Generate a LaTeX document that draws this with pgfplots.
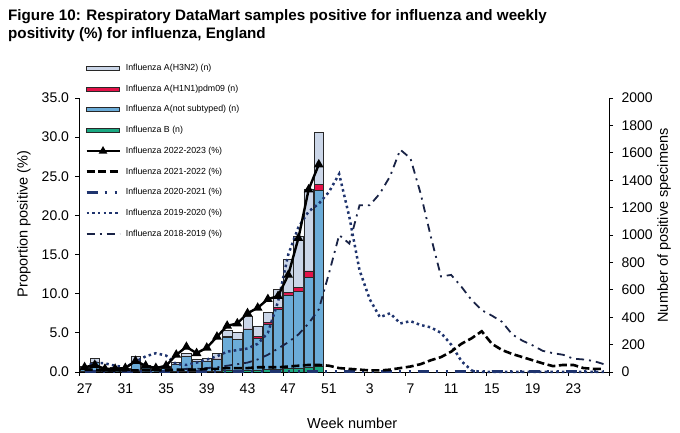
\documentclass[border=0pt]{standalone}
\usepackage{fontspec}
\setmainfont{Liberation Sans}
\usepackage{pgfplots}
\pgfplotsset{compat=1.18}
\usepackage{pgfplotstable}

\definecolor{hthree}{RGB}{203,214,232}
\definecolor{hone}{RGB}{228,18,72}
\definecolor{notsub}{RGB}{107,172,216}
\definecolor{fluB}{RGB}{26,168,130}
\definecolor{navy}{RGB}{31,52,110}
\definecolor{darknavy}{RGB}{25,35,70}
\definecolor{outl}{RGB}{40,40,40}

% weekly counts 2022-2023 season (index 0 = week 27)
\pgfplotstableread{
idx B notsub hone hthree
0 2 30 0 8
1 3 65 0 30
2 1 20 0 5
3 1 25 0 8
4 1 20 0 5
5 2 75 0 35
6 1 38 0 12
7 1 28 0 10
8 1 25 0 15
9 2 55 0 11
10 3 108 1 25
11 3 72 0 18
12 4 72 1 21
13 5 88 2 42
14 12 242 3 45
15 12 225 3 48
16 14 296 5 90
17 15 231 12 78
18 18 333 12 71
19 20 438 15 132
20 25 538 17 239
21 30 557 33 370
22 35 658 45 598
23 40 1284 44 378
}\bars

\pgfplotstableread{
idx pos
0 0.6
1 0.9
2 0.4
3 0.4
4 0.5
5 1.4
6 0.8
7 0.5
8 0.8
9 2.2
10 3.2
11 2.4
12 3.1
13 4.5
14 5.9
15 6.2
16 7.5
17 8.2
18 9.3
19 9.7
20 12.4
21 17.1
22 23.3
23 26.5
}\sA

\pgfplotstableread{
idx s2122 s2021 s1920 s1819
0 0.3 0.05 0.6 0.3
1 0.3 0.05 1.2 0.3
2 0.2 0.05 1.1 0.2
3 0.2 0.05 0.8 0.2
4 0.2 0.05 0.6 0.2
5 0.2 0.05 1.3 0.2
6 0.2 0.05 2.0 0.2
7 0.2 0.05 2.4 0.2
8 0.2 0.05 2.1 0.3
9 0.3 0.05 1.0 0.3
10 0.3 0.05 0.9 0.4
11 0.3 0.05 1.2 0.4
12 0.4 0.05 1.6 0.5
13 0.4 0.05 2.0 0.6
14 0.5 0.05 2.6 0.8
15 0.5 0.05 2.8 1.0
16 0.5 0.05 3.0 1.2
17 0.6 0.05 3.6 1.6
18 0.6 0.05 5.0 2.2
19 0.6 0.05 9.0 3.0
20 0.7 0.05 15.0 3.8
21 0.8 0.05 18.5 4.8
22 0.9 0.05 20.5 6.2
23 0.9 0.05 21.5 8.0
24 0.8 0.05 23.0 12.6
25 0.5 0.05 25.3 17.5
26 0.4 0.05 19.8 16.4
27 0.3 0.05 13.0 21.3
28 0.2 0.05 9.3 21.3
29 0.2 0.05 7.0 22.8
30 0.3 0.05 7.5 25.0
31 0.5 0.05 6.2 28.4
32 0.7 0.05 6.5 27.3
33 1.0 0.05 6.0 22.8
34 1.5 0.05 5.7 17.3
35 1.9 0.05 5.0 12.2
36 2.6 0.05 3.5 12.4
37 3.6 0.05 1.4 10.9
38 4.3 0.05 0.2 9.2
39 5.2 0.05 0.0 7.9
40 3.6 0.05 0.0 7.2
41 2.8 0.05 0.0 6.4
42 2.3 0.05 0.0 4.8
43 1.9 0.05 0.0 4.0
44 1.5 0.05 0.0 3.4
45 1.1 0.05 0.0 2.7
46 0.75 0.05 0.0 2.4
47 0.9 0.05 0.0 2.2
48 0.9 0.05 0.0 1.7
49 0.5 0.05 0.0 1.6
50 0.4 0.05 0.0 1.4
51 0.4 0.05 0.0 1.0
}\prev

\begin{document}
\begin{tikzpicture}
\useasboundingbox (0pt,0pt) rectangle (680pt,433pt);
\node[anchor=base west, inner sep=0pt, font=\fontsize{15.2}{17}\selectfont\bfseries] at (8pt,412pt)
  {Figure 10: Respiratory DataMart samples positive for influenza and weekly};
\node[anchor=base west, inner sep=0pt, font=\fontsize{15.2}{17}\selectfont\bfseries] at (8pt,394pt)
  {positivity (\%) for influenza, England};

% ---------- bars: number of positive specimens (right axis) ----------
\begin{axis}[
  at={(79.5pt,61pt)}, anchor=south west,
  scale only axis, width=529.5pt, height=274pt,
  xmin=-0.5, xmax=51.5, ymin=0, ymax=2000,
  axis y line*=right, axis x line*=bottom,
  axis line style={black, line width=0.8pt},
  ytick={0,200,...,2000},
  xtick={-0.5,3.5,...,51.5},
  xticklabels={27,31,35,39,43,47,51,3,7,11,15,19,23,{}},
  xticklabel style={xshift=5.09pt, yshift=-4pt},
  yticklabel style={xshift=5pt},
  tick align=outside, major tick length=4pt,
  tick style={black, line width=0.8pt},
  tick label style={font=\fontsize{14}{16}\selectfont},
  /pgf/number format/assume math mode=true,
  /pgf/number format/1000 sep={},
  xlabel={Week number},
  xlabel style={font=\fontsize{14.5}{16}\selectfont, at={(axis description cs:0.515,0)}, anchor=center, yshift=-51pt},
  ylabel={Number of positive specimens},
  ylabel style={font=\fontsize{14.5}{16}\selectfont, at={(axis description cs:1.104,0.535)}, anchor=center},
  ybar stacked, bar width=9.4pt,
  every axis plot/.append style={draw=outl, line width=0.6pt},
]
\addplot[fill=fluB, draw=outl] table[x=idx, y=B] {\bars};
\addplot[fill=notsub, draw=outl] table[x=idx, y=notsub] {\bars};
\addplot[fill=hone, draw=outl] table[x=idx, y=hone] {\bars};
\addplot[fill=hthree, draw=outl] table[x=idx, y=hthree] {\bars};
\end{axis}

% ---------- lines: proportion positive (left axis) ----------
\begin{axis}[
  at={(79.5pt,61pt)}, anchor=south west,
  scale only axis, width=529.5pt, height=274pt,
  xmin=-0.5, xmax=51.5, ymin=0, ymax=35,
  axis y line*=left, axis x line=none,
  axis line style={black, line width=0.8pt},
  clip=false,
  ytick={0,5,...,35},
  yticklabel style={xshift=-3pt, /pgf/number format/fixed, /pgf/number format/fixed zerofill, /pgf/number format/precision=1},
  tick align=outside, major tick length=4pt,
  tick style={black, line width=0.8pt},
  tick label style={font=\fontsize{14}{16}\selectfont},
  /pgf/number format/assume math mode=true,
  ylabel={Proportion positive (\%)},
  ylabel style={font=\fontsize{14.5}{16}\selectfont, at={(axis description cs:-0.105,0.54)}, anchor=center},
  legend image code/.code={\draw[mark repeat=2, mark phase=2, #1] plot coordinates {(0pt,0pt) (16.5pt,0pt) (33pt,0pt)};},
  legend style={draw=none, fill=none, at={(0.0104,1.124)}, anchor=north west, inner sep=0pt,
    font=\fontsize{8.8}{10}\selectfont, row sep=12.6pt, column sep=5pt,
    nodes={inner sep=0pt, text height=6.3pt, text depth=1.8pt, anchor=west}},
  legend cell align=left,
]
\addlegendimage{legend image code/.code={\draw[fill=hthree, draw=outl, line width=0.6pt] (0pt,-2pt) rectangle (33pt,2pt);}}
\addlegendentry{Influenza A(H3N2) (n)}
\addlegendimage{legend image code/.code={\draw[fill=hone, draw=outl, line width=0.6pt] (0pt,-2pt) rectangle (33pt,2pt);}}
\addlegendentry{Influenza A(H1N1)pdm09 (n)}
\addlegendimage{legend image code/.code={\draw[fill=notsub, draw=outl, line width=0.6pt] (0pt,-2pt) rectangle (33pt,2pt);}}
\addlegendentry{Influenza A(not subtyped) (n)}
\addlegendimage{legend image code/.code={\draw[fill=fluB, draw=outl, line width=0.6pt] (0pt,-2pt) rectangle (33pt,2pt);}}
\addlegendentry{Influenza B (n)}
\addlegendimage{black, line width=2.4pt, mark=triangle*, mark size=2.6pt, mark options={solid}}
\addlegendentry{Influenza 2022-2023 (\%)}
\addlegendimage{black, line width=2.6pt, dash pattern=on 8pt off 3.5pt}
\addlegendentry{Influenza 2021-2022 (\%)}
\addlegendimage{navy, line width=2.4pt, dash pattern=on 11pt off 7pt on 2pt off 8pt on 2pt off 7pt}
\addlegendentry{Influenza 2020-2021 (\%)}
\addlegendimage{navy, line width=2.5pt, dash pattern=on 2.5pt off 3.2pt}
\addlegendentry{Influenza 2019-2020 (\%)}
\addlegendimage{darknavy, line width=1.8pt, dash pattern=on 8pt off 5pt on 2pt off 5pt}
\addlegendentry{Influenza 2018-2019 (\%)}

\addplot[forget plot, darknavy, line width=1.8pt, dash pattern=on 8pt off 5pt on 2pt off 5pt] table[x=idx, y=s1819] {\prev};
\addplot[forget plot, navy, line width=2.5pt, dash pattern=on 2.5pt off 3.2pt] table[x=idx, y=s1920] {\prev};
\addplot[forget plot, navy, line width=2.4pt, dash pattern=on 11pt off 7pt on 2pt off 8pt on 2pt off 7pt] table[x=idx, y=s2021] {\prev};
\addplot[forget plot, black, line width=2.6pt, dash pattern=on 8pt off 3.5pt] table[x=idx, y=s2122] {\prev};
\addplot[forget plot, black, line width=2.4pt, mark=triangle*, mark size=3.2pt, mark options={solid}] table[x=idx, y=pos] {\sA};
\end{axis}
\end{tikzpicture}
\end{document}
